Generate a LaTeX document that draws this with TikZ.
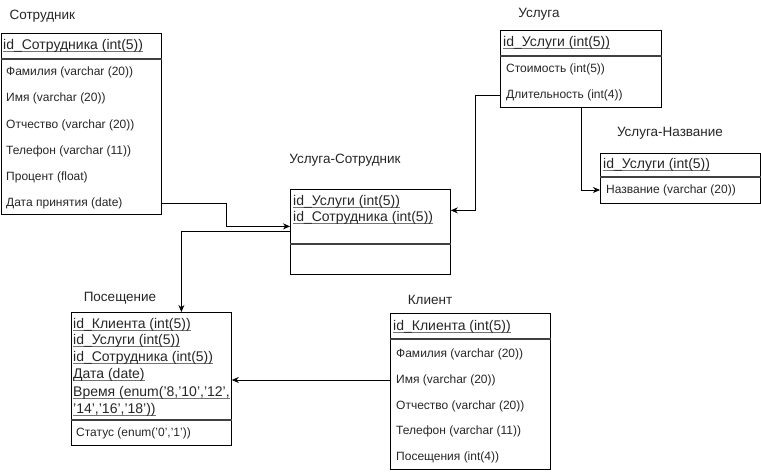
\documentclass[tikz,border=0pt]{standalone}
\usepackage{fontspec}
\setmainfont{Liberation Sans}
\usetikzlibrary{arrows.meta}
\newcommand\keyul[1]{\setbox0\hbox{#1}\rlap{\color{black!55}\rule[-1.8pt]{\wd0}{0.6pt}}\box0}
\begin{document}
\begin{tikzpicture}[
        x=1pt, y=-1pt,
        tabtitle/.style={font=\fontsize{13.5}{16}\selectfont, text=black!85},
        tablebox/.style={draw=black, line width=0.8pt, anchor=north west, inner sep=0pt},
        keyrow/.style={anchor=west, inner sep=0pt, font=\fontsize{14}{16}\selectfont, text=black!85},
        fieldrow/.style={anchor=west, inner sep=0pt, font=\fontsize{12}{14}\selectfont, text=black!85},
        sepline/.style={draw=black!75, line width=1.4pt},
        link/.style={draw=black, line width=0.8pt, -{Stealth[length=7pt,width=6pt]}},
        ]
        \useasboundingbox (0,0) rectangle (761,473);

        % Сотрудник
        \node[tabtitle, anchor=west] (sotr-t) at (6,16) {Сотрудник};
        \node[tablebox, minimum width=160pt, minimum height=181pt] (sotr) at (1,33) {};
        \draw[sepline] (sotr.west |- 0,59) -- (sotr.east |- 0,59);
        \node[keyrow]   (sotr-id)   at (3,46)  {\keyul{id\_Сотрудника (int(5))}};
        \node[fieldrow] (sotr-fam)  at (6,72)  {Фамилия (varchar (20))};
        \node[fieldrow] (sotr-name) at (6,98)  {Имя (varchar (20))};
        \node[fieldrow] (sotr-otch) at (6,125) {Отчество (varchar (20))};
        \node[fieldrow] (sotr-tel)  at (6,151) {Телефон (varchar (11))};
        \node[fieldrow] (sotr-proc) at (6,177) {Процент (float)};
        \node[fieldrow] (sotr-date) at (6,203) {Дата принятия (date)};

        % Услуга
        \node[tabtitle] (usl-t) at (539,14) {Услуга};
        \node[tablebox, minimum width=161pt, minimum height=77pt] (usl) at (500,30) {};
        \draw[sepline] (usl.west |- 0,56) -- (usl.east |- 0,56);
        \node[keyrow]   (usl-id)  at (503,43) {\keyul{id\_Услуги (int(5))}};
        \node[fieldrow] (usl-st)  at (506,69) {Стоимость (int(5))};
        \node[fieldrow] (usl-dur) at (506,95) {Длительность (int(4))};

        % Услуга-Название
        \node[tabtitle] (usn-t) at (670,133) {Услуга-Название};
        \node[tablebox, minimum width=160pt, minimum height=50pt] (usn) at (600,153) {};
        \draw[sepline] (usn.west |- 0,177) -- (usn.east |- 0,177);
        \node[keyrow]   (usn-id)   at (603,165) {\keyul{id\_Услуги (int(5))}};
        \node[fieldrow] (usn-name) at (606,190) {Название (varchar (20))};

        % Услуга-Сотрудник
        \node[tabtitle] (us-t) at (345,160) {Услуга-Сотрудник};
        \node[tablebox, minimum width=160pt, minimum height=85pt] (us) at (290,189) {};
        \draw[sepline] (us.west |- 0,244) -- (us.east |- 0,244);
        \node[keyrow] (us-idu) at (293,202) {\keyul{id\_Услуги (int(5))}};
        \node[keyrow] (us-ids) at (293,218) {\keyul{id\_Сотрудника (int(5))}};

        % Посещение
        \node[tabtitle] (pos-t) at (120,298) {Посещение};
        \node[tablebox, minimum width=160pt, minimum height=133pt] (pos) at (71,312) {};
        \draw[sepline] (pos.west |- 0,420) -- (pos.east |- 0,420);
        \node[keyrow]   (pos-idk)  at (73,325) {\keyul{id\_Клиента (int(5))}};
        \node[keyrow]   (pos-idu)  at (73,341) {\keyul{id\_Услуги (int(5))}};
        \node[keyrow]   (pos-ids)  at (73,358) {\keyul{id\_Сотрудника (int(5))}};
        \node[keyrow]   (pos-date) at (73,375) {\keyul{Дата (date)}};
        \node[keyrow]   (pos-time) at (73,393) {\keyul{Время (enum('8,'10','12',}};
        \node[keyrow]   (pos-tim2) at (73,410) {\keyul{'14','16','18'))}};
        \node[fieldrow] (pos-stat) at (76,433) {Статус (enum('0','1'))};

        % Клиент
        \node[tabtitle] (kl-t) at (430,300) {Клиент};
        \node[tablebox, minimum width=160pt, minimum height=156pt] (kl) at (390,313) {};
        \draw[sepline] (kl.west |- 0,339) -- (kl.east |- 0,339);
        \node[keyrow]   (kl-id)   at (393,327) {\keyul{id\_Клиента (int(5))}};
        \node[fieldrow] (kl-fam)  at (396,354) {Фамилия (varchar (20))};
        \node[fieldrow] (kl-name) at (396,380) {Имя (varchar (20))};
        \node[fieldrow] (kl-otch) at (396,406) {Отчество (varchar (20))};
        \node[fieldrow] (kl-tel)  at (396,431) {Телефон (varchar (11))};
        \node[fieldrow] (kl-pos)  at (396,457) {Посещения (int(4))};

        % Links
        \draw[link] (sotr.east |- sotr-date) -- ++(65,0) |- ([yshift=5.5pt]us.west);
        \draw[link] (us.west) -| ([xshift=30pt]pos.north);
        \draw[link] (usl.west |- usl-dur) -- ++(-25,0) |- ([yshift=21.5pt]us.east);
        \draw[link] (usl.south) |- (usn.west |- usn-name);
        \draw[link] (kl.west |- kl-name) -- (pos.east |- kl-name);

    \end{tikzpicture}
\end{document}
